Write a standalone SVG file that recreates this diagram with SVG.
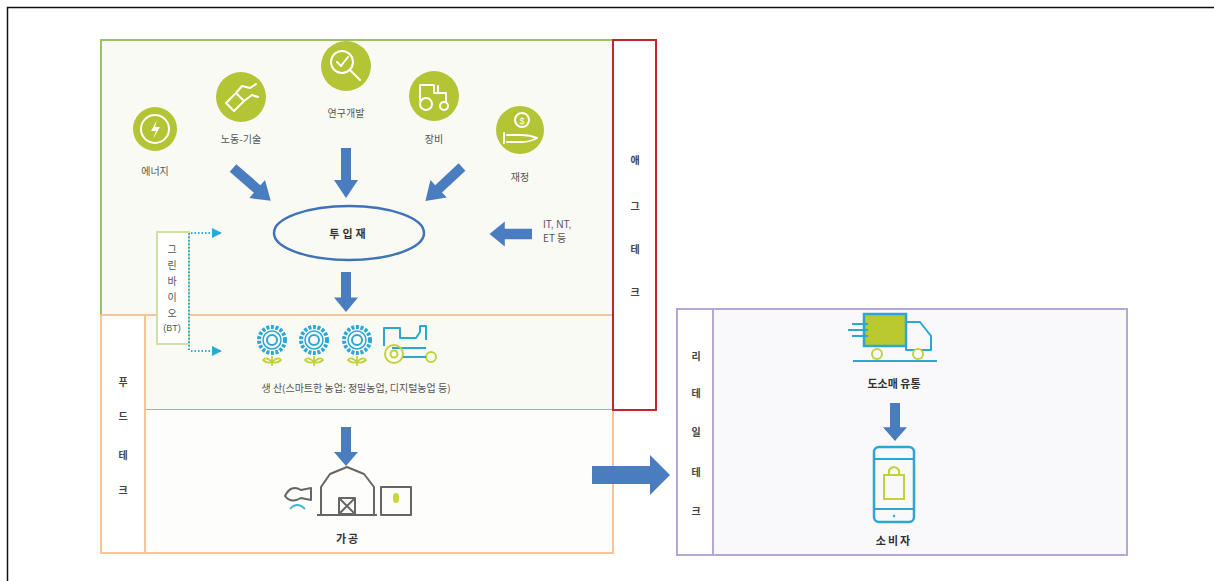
<svg xmlns="http://www.w3.org/2000/svg" width="1214" height="581" viewBox="0 0 1214 581">
  <style>
    .lbl { font-family: "Noto Sans CJK KR", "Noto Sans", sans-serif; font-size: 10px; fill: #555; text-anchor: middle; }
    .bold { font-family: "Noto Sans CJK KR", "Noto Sans", sans-serif; font-size: 11px; font-weight: bold; fill: #333; text-anchor: middle; }
    .side { font-family: "Noto Sans CJK KR", "Noto Sans", sans-serif; font-size: 10px; font-weight: bold; fill: #444; text-anchor: middle; }
    .blue { fill: #4a7cc0; }
    .badge { fill: #b3c535; }
    .ico { fill: none; stroke: #fff; stroke-width: 2; stroke-linecap: round; stroke-linejoin: round; }
    .cy { fill: none; stroke: #2aa7d4; stroke-width: 2; stroke-linejoin: round; }
    .yg { fill: none; stroke: #c2d13e; stroke-width: 2; }
    .gr { fill: none; stroke: #666; stroke-width: 2; stroke-linejoin: round; }
    .dot { fill: none; stroke: #29a8dc; stroke-width: 2; stroke-dasharray: 1.5 2; }
  </style>
  <defs>
    <path id="down" d="M-5,0 H5 V32 H12 L0,50 L-12,32 H-5 Z"/>
    <marker id="cyanHead" viewBox="0 0 10 10" refX="9" refY="5" markerWidth="5" markerHeight="5" orient="auto">
      <path d="M0,0 L10,5 L0,10 Z" fill="#29a8dc"/>
    </marker>
    <g id="flower">
      <circle r="13" fill="none" stroke="#2aa7d4" stroke-width="4" stroke-dasharray="3 1.6"/>
      <circle r="9" fill="none" stroke="#2aa7d4" stroke-width="1.5"/>
      <circle r="5" fill="none" stroke="#2aa7d4" stroke-width="2"/>
      <path d="M0,16 V26 M0,22 Q-6,16 -9,20 Q-5,24 0,22 M0,22 Q6,16 9,20 Q5,24 0,22" fill="none" stroke="#c2d13e" stroke-width="1.8"/>
    </g>
  </defs>

  <!-- page frame -->
  <rect width="1214" height="581" fill="#fff"/>
  <path d="M7.5,581 V7.5 H1214" fill="none" stroke="#111" stroke-width="1.5"/>

  <!-- agritech region -->
  <g id="agritech-region">
    <rect x="101" y="40" width="512" height="370" fill="#fafaf5"/>
    <path d="M101,315 V40 H613 M145,410 H613" fill="none" stroke="#9cc262" stroke-width="2"/>
  </g>

  <!-- foodtech region -->
  <g id="foodtech-region">
    <rect x="145" y="410" width="468" height="143" fill="#fdfdfc"/>
    <rect x="101" y="315" width="44" height="238" fill="#fff"/>
    <path d="M101,315 H613 M101,315 V553 H613 V315 M145,315 V553" fill="none" stroke="#f7c49a" stroke-width="2"/>
    <text class="side" x="123" y="386">푸</text>
    <text class="side" x="123" y="420">드</text>
    <text class="side" x="123" y="459">테</text>
    <text class="side" x="123" y="494">크</text>
  </g>

  <!-- agritech label -->
  <g id="agritech-label">
    <rect x="613" y="40" width="43" height="370" fill="#fff" stroke="#c0262c" stroke-width="2"/>
    <text class="side" x="635" y="164">애</text>
    <text class="side" x="635" y="210">그</text>
    <text class="side" x="635" y="253">테</text>
    <text class="side" x="635" y="296">크</text>
  </g>

  <!-- retailtech region -->
  <g id="retailtech-region">
    <rect x="677" y="309" width="450" height="246" fill="#f9f9fc" stroke="#b7a6d6" stroke-width="2"/>
    <rect x="677" y="309" width="36" height="246" fill="#fff" stroke="#b7a6d6" stroke-width="2"/>
    <text class="side" x="696" y="360">리</text>
    <text class="side" x="696" y="397">테</text>
    <text class="side" x="696" y="436">일</text>
    <text class="side" x="696" y="476">테</text>
    <text class="side" x="696" y="515">크</text>
  </g>

  <!-- input icons -->
  <g id="energy">
    <circle class="badge" cx="155" cy="129" r="22"/>
    <circle class="ico" cx="155" cy="129" r="14"/>
    <path d="M157,120 L151,131 H156 L153,139 L160,127 H155 Z" fill="#fff"/>
    <text class="lbl" x="155" y="175">에너지</text>
  </g>
  <g id="labor-tech">
    <circle class="badge" cx="241" cy="97" r="25"/>
    <path class="ico" d="M226,103 L236,93 L244,101 L234,111 Z M236,93 L242,86 L250,88 L256,84 M244,101 L252,95 L258,97"/>
    <text class="lbl" x="241" y="143">노동-기술</text>
  </g>
  <g id="research">
    <circle class="badge" cx="346" cy="66" r="25"/>
    <circle class="ico" cx="342" cy="62" r="11"/>
    <path class="ico" d="M350,70 L360,80" stroke-width="3.5"/>
    <path class="ico" d="M337,62 L341,66 L348,57"/>
    <text class="lbl" x="346" y="117">연구개발</text>
  </g>
  <g id="equipment">
    <circle class="badge" cx="434" cy="96" r="25"/>
    <path class="ico" d="M420,100 V85 H434 V93 H446 V102 M438,93 V86"/>
    <circle class="ico" cx="426" cy="104" r="6"/>
    <circle class="ico" cx="444" cy="106" r="4"/>
    <text class="lbl" x="434" y="143">장비</text>
  </g>
  <g id="finance">
    <circle class="badge" cx="520" cy="130" r="24"/>
    <circle class="ico" cx="522" cy="120" r="7"/>
    <text x="522" y="124" font-family="Liberation Sans, sans-serif" font-size="9" fill="#fff" text-anchor="middle">$</text>
    <path class="ico" d="M504,133 V143 M507,135 H522 Q530,135 537,138 Q530,142 522,142 H507"/>
    <text class="lbl" x="520" y="181">재정</text>
  </g>

  <!-- input node -->
  <g id="inputs">
    <ellipse cx="349" cy="233" rx="75" ry="27" fill="none" stroke="#3f74b8" stroke-width="2.5"/>
    <text class="bold" x="349" y="238" font-size="12" letter-spacing="3">투입재</text>
  </g>
  <g id="it-nt-et">
    <text x="543" y="228" font-family="Liberation Sans, sans-serif" font-size="10" fill="#555">IT, NT,</text>
    <text x="543" y="242" font-family="Noto Sans CJK KR, sans-serif" font-size="10" fill="#555">ET 등</text>
  </g>

  <!-- green bio -->
  <g id="green-bio">
    <rect x="157" y="232" width="32" height="112" fill="#fff" stroke="#cfe0a8" stroke-width="2"/>
    <text class="lbl" x="172" y="253">그</text>
    <text class="lbl" x="172" y="269">린</text>
    <text class="lbl" x="172" y="285">바</text>
    <text class="lbl" x="172" y="301">이</text>
    <text class="lbl" x="172" y="317">오</text>
    <text x="172" y="331" font-family="Liberation Sans, sans-serif" font-size="9" fill="#555" text-anchor="middle">(BT)</text>
  </g>

  <!-- production -->
  <g id="production">
    <use href="#flower" x="272" y="340"/>
    <use href="#flower" x="314" y="340"/>
    <use href="#flower" x="357" y="340"/>
    <path class="cy" d="M384,346 V328 H400 V338 H416 L420,332 V326 H426 V340"/>
    <path class="cy" d="M392,348 H426"/>
    <circle class="yg" cx="394" cy="354" r="9"/>
    <circle class="yg" cx="394" cy="354" r="3.5"/>
    <circle class="yg" cx="431" cy="357" r="5"/>
    <path class="cy" d="M403,357 H426"/>
    <text class="lbl" x="356" y="392">생 산(스마트한 농업: 정밀농업, 디지털농업 등)</text>
  </g>

  <!-- processing -->
  <g id="processing">
    <path class="gr" d="M321,515 V487 L330,474 L347,467 L364,474 L374,487 V515 M317,515 H377"/>
    <rect class="gr" x="339" y="498" width="16" height="16"/>
    <path class="gr" d="M339,498 L355,514 M355,498 L339,514" stroke-width="1.5"/>
    <rect class="gr" x="381" y="487" width="30" height="28" stroke-width="1.8"/>
    <rect x="393" y="493" width="6" height="10" rx="3" fill="#c9d640"/>
    <path class="gr" d="M285,496 Q291,484 301,490 L311,488 V500 L301,498 Q291,504 285,496 Z" stroke-width="1.6"/>
    <path d="M290,509 Q297,501 305,509" fill="none" stroke="#3fb4d6" stroke-width="1.8"/>
    <text class="bold" x="348" y="543" letter-spacing="2">가공</text>
  </g>

  <!-- distribution -->
  <g id="distribution">
    <rect x="864" y="314" width="42" height="32" fill="#bac92f" stroke="#2aa7d4" stroke-width="2.5"/>
    <path class="cy" d="M906,322 H920 L931,336 V350 H906 Z" stroke-width="2.5"/>
    <path class="cy" d="M852,324 H868 M848,330 H868 M852,336 H868" stroke-width="2.2"/>
    <path class="cy" d="M853,361 H937" stroke-width="2.5"/>
    <circle cx="877" cy="354" r="5" fill="#f9f9fc" stroke="#c2d13e" stroke-width="2"/>
    <circle cx="918" cy="354" r="5" fill="#f9f9fc" stroke="#c2d13e" stroke-width="2"/>
    <text class="bold" x="894" y="388">도소매 유통</text>
  </g>

  <!-- consumer -->
  <g id="consumer">
    <rect x="874" y="447" width="40" height="75" rx="5" fill="none" stroke="#2aa7d4" stroke-width="2.5"/>
    <path class="cy" d="M874,459 H914 M874,509 H914" stroke-width="2"/>
    <circle cx="894" cy="516" r="1.2" fill="#2aa7d4"/>
    <rect x="884" y="475" width="20" height="24" fill="none" stroke="#c2d13e" stroke-width="2"/>
    <path d="M889,475 V470 Q894,464 899,470 V475" fill="none" stroke="#c2d13e" stroke-width="2"/>
    <text class="bold" x="894" y="545" letter-spacing="2">소비자</text>
  </g>

  <!-- connectors -->
  <g id="connectors">
    <use href="#down" class="blue" transform="translate(233,168) rotate(-49)"/>
    <use href="#down" class="blue" transform="translate(346,148)"/>
    <use href="#down" class="blue" transform="translate(462,167) rotate(47)"/>
    <use href="#down" class="blue" transform="translate(532,234) rotate(90) scale(1.05,0.85)"/>
    <use href="#down" class="blue" transform="translate(346,272) scale(1,0.8)"/>
    <use href="#down" class="blue" transform="translate(346,427) scale(1,0.78)"/>
    <use href="#down" class="blue" transform="translate(895,403) scale(1,0.76)"/>
    <path class="blue" d="M592,466 H650 V455 L670,475 L650,495 V484 H592 Z"/>
    <path class="dot" d="M189,233 V351"/>
    <path class="dot" d="M191,233 H221" marker-end="url(#cyanHead)"/>
    <path class="dot" d="M191,351 H221" marker-end="url(#cyanHead)"/>
  </g>
</svg>
